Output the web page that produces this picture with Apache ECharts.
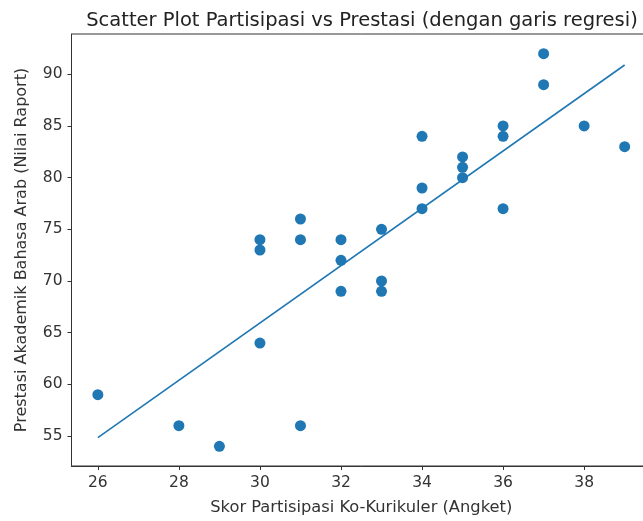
<!DOCTYPE html>
<html>
<head>
<meta charset="utf-8">
<script src="https://cdn.jsdelivr.net/npm/echarts@6/dist/echarts.min.js"></script>
<style>
  html, body { margin: 0; padding: 0; background: #fff; overflow: hidden; }
  #chart { width: 670px; height: 521px; }
</style>
</head>
<body>
<div id="chart"></div>
<script>
// skor partisipasi (x) dan nilai raport (y)
const skorPartisipasi = [26, 28, 29, 30, 30, 30, 31, 31, 31, 32, 32, 32, 33, 33, 33,
  34, 34, 34, 35, 35, 35, 36, 36, 36, 37, 37, 38, 39];
const nilaiRaport = [59, 56, 54, 74, 73, 64, 76, 74, 56, 74, 72, 69, 75, 70, 69,
  84, 79, 77, 82, 81, 80, 85, 84, 77, 92, 89, 85, 83];

// ujung garis regresi
const garisX = [26, 39];
const garisY = [54.85, 90.9];

const xTicks = [26, 28, 30, 32, 34, 36, 38];
const yTicks = [55, 60, 65, 70, 75, 80, 85, 90];

const warna = '#1f77b4';
const font = 'DejaVu Sans';

// kanvas sedikit lebih lebar dari jendela: sisi kanan plot terpotong seperti di gambar asli
let myChart = echarts.init(document.getElementById('chart'));

let option = {
  animation: false,
  title: { // judul
    text: 'Scatter Plot Partisipasi vs Prestasi (dengan garis regresi)',
    left: 357,
    top: 6,
    textAlign: 'center',
    textStyle: { fontFamily: font, fontSize: 19.5, fontWeight: 'normal', color: '#222' }
  },
  grid: { left: 71.5, top: 34, width: 579.5, bottom: 55, show: true, borderColor: '#333', borderWidth: 1 },
  xAxis: {
    type: 'value',
    min: 25.35,
    max: 39.65,
    name: 'Skor Partisipasi Ko-Kurikuler (Angket)',
    nameLocation: 'middle',
    nameGap: 34,
    nameTextStyle: { fontFamily: font, fontSize: 16.3, color: '#333' },
    splitLine: { show: false },
    axisLine: { show: true, onZero: false, lineStyle: { color: '#333', width: 1 } },
    axisTick: { show: true, length: 4, lineStyle: { color: '#333' }, customValues: xTicks },
    axisLabel: { fontFamily: font, fontSize: 15.5, color: '#333', margin: 9, customValues: xTicks }
  },
  yAxis: {
    type: 'value',
    min: 52.1,
    max: 93.9,
    name: 'Prestasi Akademik Bahasa Arab (Nilai Raport)',
    nameLocation: 'middle',
    nameGap: 42,
    nameTextStyle: { fontFamily: font, fontSize: 16, color: '#333' },
    splitLine: { show: false },
    axisLine: { show: true, onZero: false, lineStyle: { color: '#333', width: 1 } },
    axisTick: { show: true, length: 4, lineStyle: { color: '#333' }, customValues: yTicks },
    axisLabel: { fontFamily: font, fontSize: 15.5, color: '#333', margin: 9, customValues: yTicks }
  },
  series: [
    {
      type: 'scatter',
      symbolSize: 11,
      itemStyle: { color: warna, opacity: 1 },
      data: skorPartisipasi.map((x, i) => [x, nilaiRaport[i]])
    },
    {
      type: 'line',
      showSymbol: false,
      lineStyle: { color: warna, width: 1.6 },
      data: garisX.map((x, i) => [x, garisY[i]])
    }
  ]
};

myChart.setOption(option);
</script>
</body>
</html>
